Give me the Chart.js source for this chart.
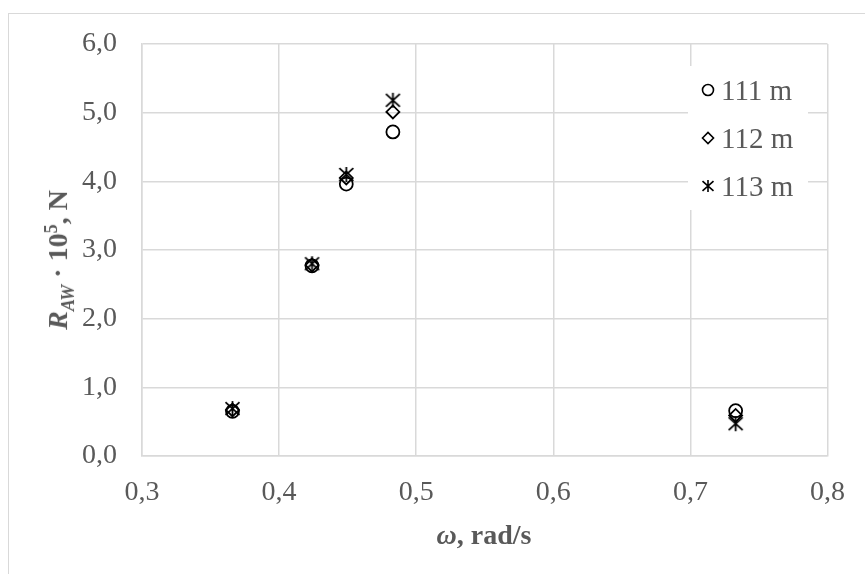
<!DOCTYPE html>
<html>
<head>
<meta charset="utf-8">
<script src="https://cdn.jsdelivr.net/npm/chart.js@4/dist/chart.umd.min.js"></script>
<style>
    html, body { margin: 0; padding: 0; background: #fff; overflow: hidden; }
    #wrap { position: relative; width: 865px; height: 574px; }
    #frame { position: absolute; left: 8px; top: 13px; width: 900px; height: 600px; border: 1.5px solid #d9d9d9; box-sizing: border-box; }
    canvas { position: absolute; left: 0; top: 0; }
    .axis-title { position: absolute; font-family: 'Liberation Serif', 'Times New Roman', serif; font-weight: bold; color: #595959; font-size: 28px; white-space: nowrap; }
    #xTitle { left: 484px; top: 535px; transform: translate(-50%, -50%); }
    #yTitle { left: 60px; top: 260px; transform: translate(-50%, -50%) rotate(-90deg); }
    #yTitle sub, #yTitle sup { font-size: 18px; }
    #legend { position: absolute; left: 688px; top: 66px; width: 120px; background: #fff; padding: 0; }
    .legend-item { display: flex; align-items: center; height: 48px; font-family: 'Liberation Serif', 'Times New Roman', serif; font-size: 29px; color: #595959; }
    .legend-item canvas { position: static; margin-left: 12px; margin-right: 5px; }
</style>
</head>
<body>
<div id="wrap">
    <div id="frame"></div>
    <canvas id="chart" width="865" height="574"></canvas>
    <div id="xTitle" class="axis-title"><i>ω</i>, rad/s</div>
    <div id="yTitle" class="axis-title"><i>R<sub>AW</sub></i> · 10<sup>5</sup>, N</div>
    <div id="legend"></div>
</div>
<script>
// Frequency points (rad/s) and added resistance values (x 10^5 N)
const omega = [0.366, 0.424, 0.449, 0.483, 0.733];
const seriesNames = ['111 m', '112 m', '113 m'];
const r111 = [0.65, 2.77, 3.96, 4.72, 0.66];
const r112 = [0.67, 2.78, 4.05, 5.01, 0.59];
const r113 = [0.69, 2.80, 4.10, 5.18, 0.47];
const xTicks = [0.3, 0.4, 0.5, 0.6, 0.7, 0.8];
const yTicks = [0, 1, 2, 3, 4, 5, 6];

const gridColor = '#d9d9d9';
const textColor = '#595959';
const markColor = '#000000';

// Excel-like "star" marker: X with vertical bar
function makeStar(size, lw) {
    const c = document.createElement('canvas');
    c.width = size; c.height = size;
    const g = c.getContext('2d');
    const m = size / 2, h = size / 2 - 1.5;
    g.strokeStyle = markColor;
    g.lineWidth = lw;
    g.beginPath();
    g.moveTo(m - h, m - h * 0.9); g.lineTo(m + h, m + h * 0.9);
    g.moveTo(m + h, m - h * 0.9); g.lineTo(m - h, m + h * 0.9);
    g.moveTo(m, m - h - 0.5); g.lineTo(m, m + h + 0.5);
    g.stroke();
    return c;
}
const starMark = makeStar(17, 1.8);

const toPoints = (ys) => omega.map((x, i) => ({ x: x, y: ys[i] }));
const fmt = (v) => v.toFixed(1).replace('.', ',');

const datasets = [
    { label: seriesNames[0], data: toPoints(r111), pointStyle: 'circle', pointRadius: 6.5 },
    { label: seriesNames[1], data: toPoints(r112), pointStyle: 'rectRot', pointRadius: 6.5 },
    { label: seriesNames[2], data: toPoints(r113), pointStyle: starMark, pointRadius: 8 }
].map(d => Object.assign(d, {
    showLine: false,
    borderColor: markColor,
    backgroundColor: 'rgba(0,0,0,0)',
    pointBorderWidth: 1.8,
    pointBorderColor: markColor,
    pointBackgroundColor: 'rgba(0,0,0,0)'
}));

const chart = new Chart(document.getElementById('chart').getContext('2d'), {
    type: 'scatter',
    data: { datasets: datasets },
    options: {
        responsive: false,
        animation: false,
        layout: { padding: { left: 0, top: 44, right: 37, bottom: 0 } },
        plugins: { legend: { display: false }, tooltip: { enabled: false } },
        scales: {
            x: {
                min: 0.3, max: 0.8,
                afterBuildTicks: (s) => { s.ticks = xTicks.map(v => ({ value: v })); },
                afterFit: (s) => { s.height = 118; },
                grid: { color: gridColor, lineWidth: 1.5, drawTicks: false },
                border: { color: gridColor, width: 1.5 },
                ticks: { color: textColor, padding: 20, font: { family: 'Liberation Serif', size: 28 }, callback: (v) => fmt(v) }
            },
            y: {
                min: 0, max: 6,
                afterBuildTicks: (s) => { s.ticks = yTicks.map(v => ({ value: v })); },
                afterFit: (s) => { s.width = 142; },
                grid: { color: gridColor, lineWidth: 1.5, drawTicks: false },
                border: { color: gridColor, width: 1.5 },
                ticks: { color: textColor, padding: 25, font: { family: 'Liberation Serif', size: 28 }, callback: (v) => fmt(v) }
            }
        }
    }
});

// HTML legend placed inside the plot area
const legendEl = document.getElementById('legend');
chart.data.datasets.forEach((ds) => {
    const item = document.createElement('div');
    item.className = 'legend-item';
    const sym = document.createElement('canvas');
    sym.width = 16; sym.height = 16;
    const g = sym.getContext('2d');
    if (typeof ds.pointStyle === 'string') {
        g.strokeStyle = markColor;
        g.fillStyle = 'rgba(0,0,0,0)';
        g.lineWidth = 1.6;
        Chart.helpers.drawPoint(g, { pointStyle: ds.pointStyle, radius: 5.5, borderWidth: 1.6, rotation: 0 }, 8, 8);
    } else {
        g.drawImage(makeStar(14, 1.6), 1, 1);
    }
    item.appendChild(sym);
    const txt = document.createElement('span');
    txt.textContent = ds.label;
    item.appendChild(txt);
    legendEl.appendChild(item);
});
</script>
</body>
</html>
